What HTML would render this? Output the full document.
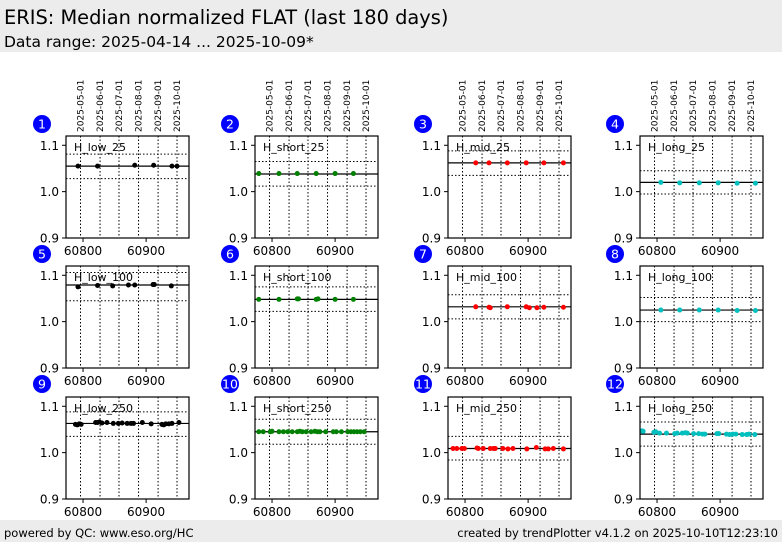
<!DOCTYPE html>
<html><head><meta charset="utf-8"><style>
body{margin:0;width:782px;height:542px;background:#fff;overflow:hidden;font-family:"Liberation Sans","DejaVu Sans",sans-serif}
svg text{font-family:"DejaVu Sans","Liberation Sans",sans-serif}
</style></head><body>
<svg id="c" width="782" height="542" xmlns="http://www.w3.org/2000/svg">
<rect x="0" y="0" width="782" height="52" fill="#ececec"/>
<text x="4" y="24" font-size="19.4">ERIS: Median normalized FLAT (last 180 days)</text>
<text x="4" y="47" font-size="15.5">Data range: 2025-04-14 ... 2025-10-09*</text>
<rect x="0" y="520" width="782" height="22" fill="#ececec"/>
<text x="4" y="537" font-size="11.5">powered by QC: www.eso.org/HC</text>
<text x="778" y="537" font-size="11.5" text-anchor="end">created by trendPlotter v4.1.2 on 2025-10-10T12:23:10</text>
</svg>
<script>
const names=["H_low_25","H_short_25","H_mid_25","H_long_25","H_low_100","H_short_100","H_mid_100","H_long_100","H_low_250","H_short_250","H_mid_250","H_long_250"];
const medians=[1.055,1.038,1.062,1.020,1.079,1.048,1.032,1.025,1.063,1.045,1.009,1.040];
const upperBand=[1.081,1.065,1.088,1.045,1.106,1.075,1.058,1.052,1.088,1.072,1.035,1.066];
const lowerBand=[1.028,1.012,1.035,0.995,1.045,1.022,1.006,1.000,1.035,1.018,0.984,1.014];
const colors=["#000","#008000","#ff0000","#00bfbf"];
const mjds=[
[60792,60823,60882,60912,60941,60949],
[60779,60811,60840,60870,60900,60929],
[60817,60838,60867,60897,60925,60956],
[60806,60836,60867,60897,60927,60956],
[60792,60823,60847,60872,60882,60911,60913,60940],
[60779,60811,60840,60842,60870,60873,60900,60929],
[60817,60838,60840,60867,60897,60902,60914,60925,60956],
[60806,60836,60867,60897,60927,60956],
[60788,60791,60794,60797,60820,60823,60826,60830,60838,60848,60856,60862,60870,60876,60880,60894,60908,60925,60928,60931,60936,60941,60952],
[60779,60786,60797,60800,60811,60818,60825,60832,60840,60844,60848,60854,60862,60868,60872,60876,60885,60897,60902,60910,60920,60925,60930,60935,60940,60946],
[60781,60787,60795,60799,60819,60821,60829,60840,60845,60848,60860,60868,60876,60898,60913,60927,60932,60940,60956],
[60776,60778,60795,60798,60804,60815,60828,60832,60840,60845,60848,60858,60866,60872,60876,60895,60898,60910,60915,60920,60925,60935,60942,60946,60955]];
const vals=[
[1.055,1.055,1.057,1.057,1.055,1.055],
[1.039,1.039,1.039,1.039,1.039,1.039],
[1.062,1.062,1.062,1.062,1.062,1.062],
[1.020,1.019,1.019,1.019,1.018,1.018],
[1.075,1.078,1.077,1.079,1.079,1.080,1.080,1.077],
[1.048,1.048,1.049,1.049,1.048,1.049,1.048,1.048],
[1.032,1.031,1.030,1.032,1.032,1.030,1.030,1.031,1.031],
[1.025,1.025,1.025,1.025,1.024,1.024],
[1.061,1.060,1.062,1.061,1.065,1.065,1.066,1.064,1.065,1.063,1.063,1.064,1.063,1.063,1.063,1.065,1.062,1.061,1.060,1.062,1.062,1.063,1.065],
[1.045,1.045,1.045,1.046,1.045,1.045,1.045,1.045,1.045,1.046,1.045,1.045,1.045,1.046,1.045,1.045,1.045,1.045,1.045,1.045,1.045,1.045,1.045,1.045,1.045,1.045],
[1.009,1.009,1.009,1.009,1.010,1.009,1.009,1.009,1.009,1.009,1.009,1.008,1.009,1.008,1.011,1.008,1.008,1.009,1.008],
[1.047,1.046,1.044,1.045,1.042,1.042,1.041,1.042,1.042,1.043,1.042,1.041,1.041,1.040,1.040,1.041,1.041,1.040,1.039,1.040,1.040,1.039,1.039,1.040,1.039]];
const dateLabels=["2025-05-01","2025-06-01","2025-07-01","2025-08-01","2025-09-01","2025-10-01"];
const dateMjd=[60796,60827,60857,60888,60919,60949];
const xTicks=[60800,60900];
const yTicks=[0.9,1.0,1.1];
const colX=[66,255,448,640],rowY=[136,266,397],W=123,H=102;
const X0=60773,X1=60968,Y0=0.9,Y1=1.12;
const svg=document.getElementById('c');const NS="http://www.w3.org/2000/svg";
function mk(t,a,p){const e=document.createElementNS(NS,t);for(const k in a)e.setAttribute(k,a[k]);(p||svg).appendChild(e);return e;}
for(let i=0;i<12;i++){
 const c=i%4,r=Math.floor(i/4),ox=colX[c],oy=rowY[r];
 const sx=v=>ox+(v-X0)/(X1-X0)*W, sy=v=>oy+H-(v-Y0)/(Y1-Y0)*H;
 const g=mk('g',{});
 
 
 dateMjd.forEach((m,j)=>{const l=mk('line',{x1:sx(m),x2:sx(m),y1:oy,y2:oy+H,stroke:'#000','stroke-width':1,'stroke-dasharray':'1.5,2'},g);
  
  if(r===0){const t=mk('text',{x:0,y:0,'font-size':9,transform:`translate(${sx(m)+3},${oy-4}) rotate(-90)`},g);t.textContent=dateLabels[j];
   }});
 [upperBand[i],lowerBand[i]].forEach(v=>{const l=mk('line',{x1:ox,x2:ox+W,y1:sy(v),y2:sy(v),stroke:'#000','stroke-width':1,'stroke-dasharray':'1.5,2'},g);
  });
 const ml=mk('line',{x1:ox,x2:ox+W,y1:sy(medians[i]),y2:sy(medians[i]),stroke:'#000','stroke-width':1.2},g);
 
 mjds[i].forEach((m,j)=>{const p=mk('circle',{cx:sx(m),cy:sy(vals[i][j]),r:2.5,fill:colors[c]},g);
  });
 const fr=mk('rect',{x:ox,y:oy,width:W,height:H,fill:'none',stroke:'#000','stroke-width':1.2},g);
 
 yTicks.forEach(v=>{mk('line',{x1:ox-4,x2:ox,y1:sy(v),y2:sy(v),stroke:'#000'},g);
  const t=mk('text',{x:ox-7,y:sy(v)+4.5,'font-size':12,'text-anchor':'end'},g);t.textContent=v.toFixed(1);
  });
 xTicks.forEach(v=>{mk('line',{x1:sx(v),x2:sx(v),y1:oy+H,y2:oy+H+4,stroke:'#000'},g);
  const t=mk('text',{x:sx(v),y:oy+H+17,'font-size':12,'text-anchor':'middle'},g);t.textContent=v;
  });
 const lb=mk('text',{x:ox+8,y:oy+15,'font-size':11},g);lb.textContent=names[i];
 
 const bx=[42,230,423,615][c],by=[124,254,384][r];
 const bc=mk('circle',{cx:bx,cy:by,r:9,fill:'#0000ff'},g);
 
 const bt=mk('text',{x:bx,y:by+4.5,'font-size':12.5,'text-anchor':'middle',fill:'#fff'},g);bt.textContent=i+1;
 
}
</script>
</body></html>
